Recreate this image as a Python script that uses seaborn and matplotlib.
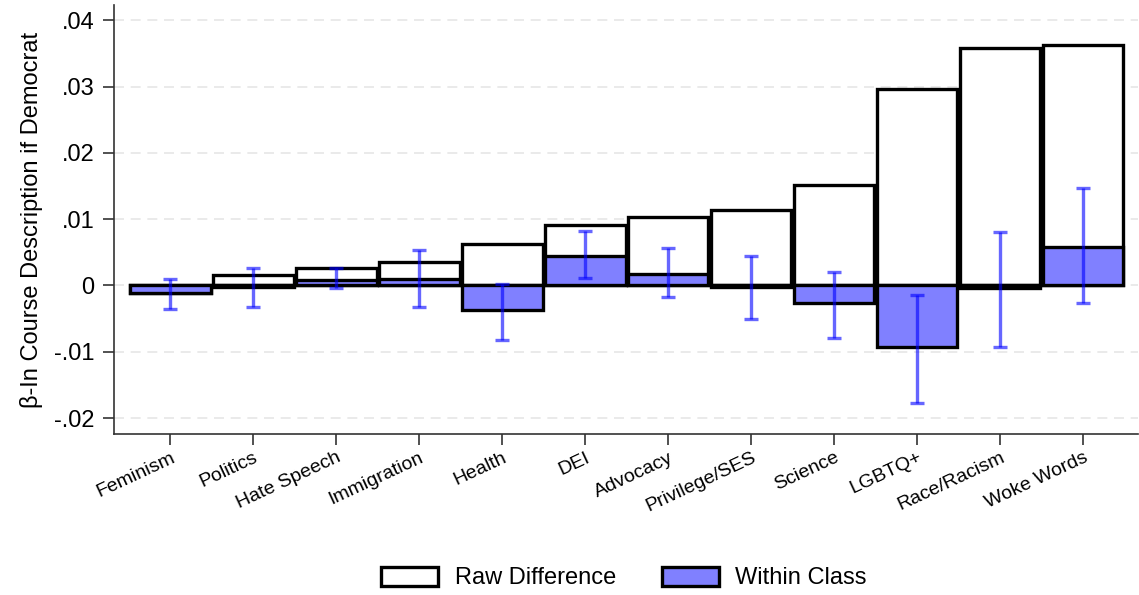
import matplotlib
matplotlib.use("Agg")
import matplotlib.pyplot as plt
import matplotlib.patches as mpatches
import numpy as np
import pandas as pd
import seaborn as sns

categories = ["Feminism", "Politics", "Hate Speech", "Immigration", "Health", "DEI",
              "Advocacy", "Privilege/SES", "Science", "LGBTQ+", "Race/Racism", "Woke Words"]
raw_diff = [-0.0011, 0.0016, 0.0027, 0.0035, 0.0063, 0.0091,
            0.0104, 0.0114, 0.0152, 0.0297, 0.0358, 0.0363]
within_class = [-0.0012, -0.0003, 0.0009, 0.0010, -0.0037, 0.0045,
                0.0018, -0.0003, -0.0026, -0.0093, -0.0004, 0.0058]
ci_high = [0.0010, 0.0026, 0.0026, 0.0053, 0.0002, 0.0082,
           0.0057, 0.0044, 0.0020, -0.0014, 0.0080, 0.0147]
ci_low = [-0.0036, -0.0032, -0.0004, -0.0033, -0.0082, 0.0011,
          -0.0018, -0.0051, -0.0079, -0.0177, -0.0093, -0.0027]

df = pd.DataFrame({"topic": categories, "raw": raw_diff, "within": within_class,
                   "lo": ci_low, "hi": ci_high})

sns.set_theme(style="white")
plt.rcParams["font.family"] = ["Liberation Sans", "DejaVu Sans"]
plt.rcParams.update({"text.color": "black", "axes.labelcolor": "black",
                     "xtick.color": "black", "ytick.color": "black"})

fig, ax = plt.subplots(figsize=(11.39, 5.95), dpi=100)
fig.subplots_adjust(left=0.1001, right=0.999, top=0.9916, bottom=0.2706)

fill_blue = "#8080FF"
edge_lw = 2.4

sns.barplot(data=df, x="topic", y="raw", color="white", edgecolor="black",
            linewidth=edge_lw, width=0.97, saturation=1, ax=ax, zorder=2)
sns.barplot(data=df, x="topic", y="within", color=fill_blue, edgecolor="black",
            linewidth=edge_lw, width=0.97, saturation=1, ax=ax, zorder=3)

xpos = np.arange(len(categories))
mid = (df["hi"] + df["lo"]) / 2
half = (df["hi"] - df["lo"]) / 2
ax.errorbar(xpos, mid, yerr=half, fmt="none", ecolor="#0000FF", alpha=0.6,
            elinewidth=2.4, capsize=5, capthick=2.4, zorder=4)

ax.set_xlim(-0.68, 11.66)
ax.set_ylim(-0.0224, 0.0423)
yticks = [-0.02, -0.01, 0, 0.01, 0.02, 0.03, 0.04]
ytick_labels = ["-.02", "-.01", "0", ".01", ".02", ".03", ".04"]
ax.set_yticks(yticks)
ax.set_yticklabels(ytick_labels, fontsize=17)
for y in yticks:
    ax.axhline(y, color="#e6e6e6", linestyle=(0, (6, 4)), linewidth=1.2, zorder=0)

ax.set_xticks(xpos)
ax.set_xticklabels(categories, rotation=25, ha="right", rotation_mode="anchor", fontsize=14)
ax.set_xlabel("")
ax.set_ylabel("β-In Course Description if Democrat", fontsize=17, labelpad=8)

for side in ["top", "right"]:
    ax.spines[side].set_visible(False)
for side in ["left", "bottom"]:
    ax.spines[side].set_color("#333333")
    ax.spines[side].set_linewidth(1.2)
ax.tick_params(axis="both", which="both", direction="out", length=8, width=1.2,
               color="#333333", left=True, bottom=True)
ax.tick_params(axis="y", pad=6)
ax.tick_params(axis="x", pad=3)

handles = [mpatches.Patch(facecolor="white", edgecolor="black", linewidth=edge_lw, label="Raw Difference"),
           mpatches.Patch(facecolor=fill_blue, edgecolor="black", linewidth=edge_lw, label="Within Class")]
fig.legend(handles=handles, loc="center", bbox_to_anchor=(624 / 1139, 1 - 578 / 595),
           ncol=2, frameon=False, fontsize=17, handlelength=2.4, handleheight=0.85,
           columnspacing=1.95, handletextpad=0.7)

fig.savefig("out.png", dpi=100)
